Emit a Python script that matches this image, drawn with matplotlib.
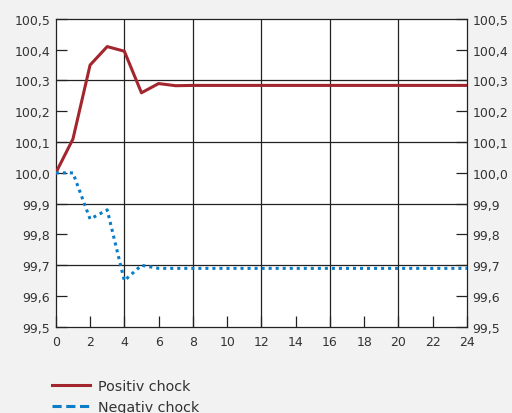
import numpy as np
import matplotlib
matplotlib.use('Agg')
import matplotlib.pyplot as plt
from matplotlib.lines import Line2D

months = list(range(0, 25))
positiv = [100.0, 100.11, 100.35, 100.41, 100.395, 100.26, 100.29, 100.283] + [100.284] * 17
negativ = [100.0, 100.0, 99.85, 99.88, 99.65, 99.70, 99.69, 99.69] + [99.69] * 17
y_labels = ['99,5', '99,6', '99,7', '99,8', '99,9', '100,0',
            '100,1', '100,2', '100,3', '100,4', '100,5']

red = '#a3262e'
blue = '#0a7cc8'
bg = '#f2f2f2'

fig = plt.figure(figsize=(5.12, 4.14), dpi=100, facecolor=bg)
ax = fig.add_axes([0.109, 0.208, 0.803, 0.744])
ax.set_facecolor('white')

# grid lines
for x in [4, 8, 12, 16, 20]:
    ax.axvline(x, color='#222222', lw=0.9, zorder=1)
for y in [99.7, 99.9, 100.1, 100.3]:
    ax.axhline(y, color='#222222', lw=0.9, zorder=1)

ax.plot(months, positiv, color=red, lw=2.2, zorder=3)
ax.plot(months, negativ, color=blue, lw=2.2, ls=(0, (1, 1.3)), zorder=3)

ax.set_xlim(0, 24)
ax.set_ylim(99.5, 100.5)
ax.set_xticks(np.arange(0, 25, 2))
ax.set_yticks(np.arange(99.5, 100.51, 0.1))
ax.set_yticklabels(y_labels)

ax.tick_params(axis='both', direction='in', length=8, width=0.9,
               color='#222222', labelsize=9, labelcolor='#333333')
ax.tick_params(axis='y', right=True, labelright=True, pad=4)
ax.tick_params(axis='x', pad=6)
for s in ax.spines.values():
    s.set_color('#222222')
    s.set_linewidth(0.9)

handles = [Line2D([0], [0], color=red, lw=2.2),
           Line2D([0], [0], color=blue, lw=2.2, ls=(0, (3, 1.5)))]
fig.legend(handles, ['Positiv chock', 'Negativ chock'], loc='upper left',
           bbox_to_anchor=(0.09, 0.095), frameon=False, fontsize=10.3,
           handlelength=2.7, labelspacing=0.45, handletextpad=0.5,
           borderaxespad=0, labelcolor='#333333')

fig.savefig('out.png', dpi=100, facecolor=bg)
